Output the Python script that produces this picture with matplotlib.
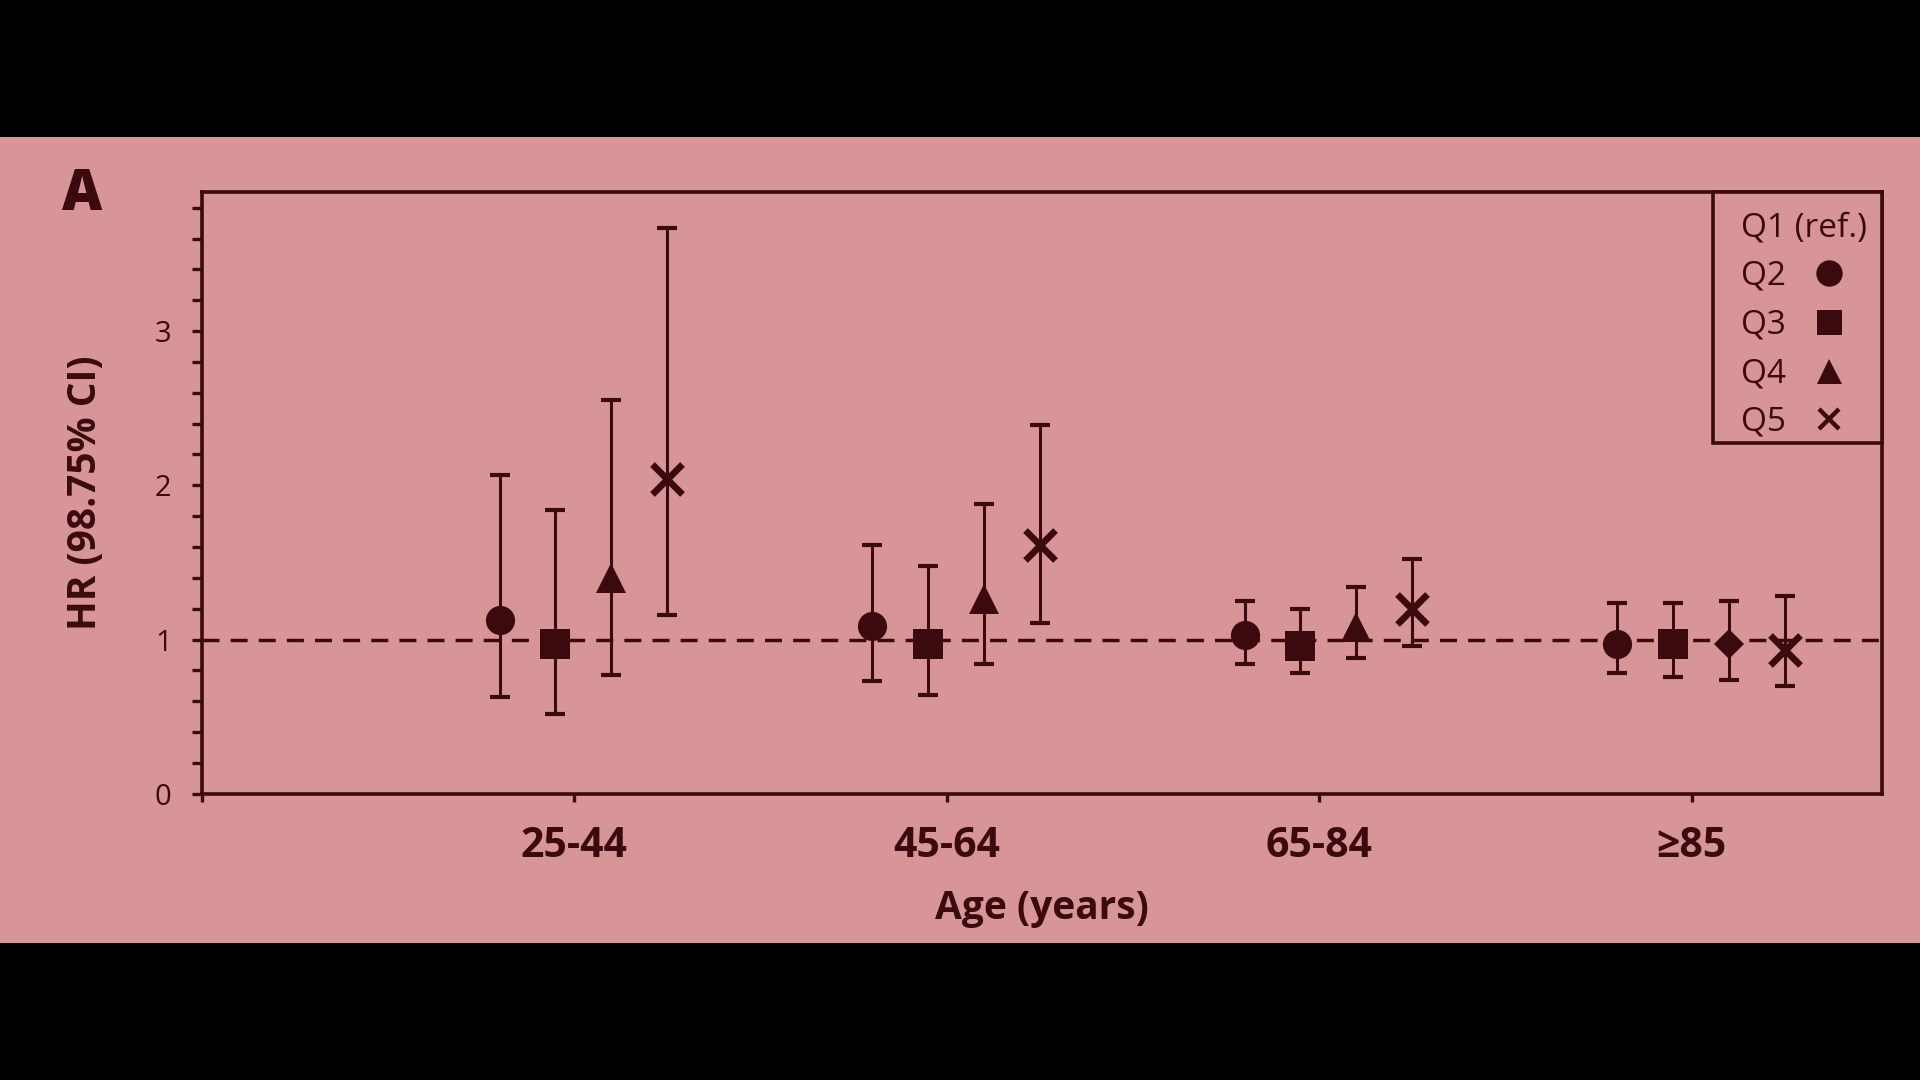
import matplotlib
matplotlib.use("Agg")
import matplotlib.pyplot as plt
from matplotlib.lines import Line2D
from matplotlib.patches import Rectangle
from matplotlib.offsetbox import DrawingArea
import numpy as np

# ---- data ----
age_groups = ['25-44', '45-64', '65-84', '≥85']
q2_hr = [1.13, 1.09, 1.03, 0.97]
q2_lo = [0.63, 0.73, 0.84, 0.78]
q2_hi = [2.07, 1.61, 1.25, 1.24]
q3_hr = [0.97, 0.97, 0.96, 0.97]
q3_lo = [0.52, 0.64, 0.78, 0.76]
q3_hi = [1.84, 1.48, 1.20, 1.24]
q4_hr = [1.40, 1.26, 1.08, 0.97]
q4_lo = [0.77, 0.84, 0.88, 0.74]
q4_hi = [2.55, 1.88, 1.34, 1.25]
q5_hr = [2.04, 1.61, 1.20, 0.93]
q5_lo = [1.16, 1.11, 0.96, 0.70]
q5_hi = [3.67, 2.39, 1.52, 1.28]
legend_labels = ['Q1 (ref.)', 'Q2', 'Q3', 'Q4', 'Q5']

# ---- style ----
PINK = '#d79597'
DARK = '#3a0a0e'
FONT = 'Open Sans'
plt.rcParams['font.family'] = [FONT, 'DejaVu Sans']

fig = plt.figure(figsize=(19.2, 10.8), dpi=100, facecolor='black')
fig.patches.append(Rectangle((0, 0.127), 1, 0.746, transform=fig.transFigure,
                             facecolor=PINK, edgecolor='none', zorder=-5))
ax = fig.add_axes([0.105, 0.265, 0.875, 0.557])
ax.set_facecolor(PINK)

series = [
    (q2_hr, q2_lo, q2_hi, ['o'] * 4, -0.20, 21, 0),
    (q3_hr, q3_lo, q3_hi, ['s'] * 4, -0.05, 21, 0),
    (q4_hr, q4_lo, q4_hi, ['^', '^', '^', 'D'], 0.10, 22, 0),
    (q5_hr, q5_lo, q5_hi, ['x'] * 4, 0.25, 21, 4.8),
]
base = np.arange(1, len(age_groups) + 1)
for hr, lo, hi, markers, off, ms, mew in series:
    hr = np.array(hr); lo = np.array(lo); hi = np.array(hi)
    xs = base + off
    ax.errorbar(xs, hr, yerr=[hr - lo, hi - hr], fmt='none', ecolor=DARK,
                elinewidth=2.2, capsize=7, capthick=3, zorder=3)
    for x, y, m in zip(xs, hr, markers):
        size = ms if m != 'D' else 15
        ax.plot([x], [y], linestyle='none', marker=m, markersize=size,
                color=DARK, markeredgewidth=(mew if m == 'x' else 0), zorder=4)

ax.axhline(1, color=DARK, lw=2.5, ls=(0, (4.9, 3.2)), zorder=2)

ax.set_xlim(0, 4.51)
ax.set_ylim(0, 3.9)
ax.set_xticks(base)
ax.set_xticklabels(age_groups, fontsize=29.5, fontweight='bold', color=DARK)
ax.set_xticks([0], minor=True)
ax.set_yticks([0, 1, 2, 3])
ax.set_yticklabels(['0', '1', '2', '3'], fontsize=21, color=DARK)
ax.set_yticks(np.arange(0.2, 3.81, 0.2), minor=True)
ax.tick_params(axis='y', which='both', direction='out', length=7.5, width=2.4,
               color=DARK, pad=14)
ax.tick_params(axis='x', which='both', direction='out', length=6, width=2.4,
               color=DARK, pad=17)
for s in ax.spines.values():
    s.set_linewidth(2.6)
    s.set_color(DARK)

ax.set_xlabel('Age (years)', fontsize=28, fontweight='bold', color=DARK, labelpad=16)
ax.set_ylabel('HR (98.75% CI)', fontsize=28, fontweight='bold', color=DARK, labelpad=36)

# ---- legend: text left-aligned, markers in a right-hand column ----
LEG_FS = 24
handles = [Line2D([], [], linestyle='none', marker='None', color=DARK)]
handles += [Line2D([], [], linestyle='none', marker=m, markersize=s, color=DARK,
                   markeredgewidth=w)
            for m, s, w in [('o', 19, 0), ('s', 18, 0), ('^', 18, 0), ('x', 15, 3.2)]]
leg = ax.legend(handles, legend_labels, loc='upper right', borderaxespad=0,
                markerfirst=False, fontsize=LEG_FS, frameon=True, fancybox=False,
                edgecolor=DARK, facecolor=PINK, framealpha=1, labelspacing=0.47,
                handlelength=2.28, handletextpad=0, borderpad=0.13)
leg.get_frame().set_linewidth(2.6)
for t in leg.get_texts():
    t.set_color(DARK)

renderer = fig.canvas.get_renderer()
q1_width = leg.get_texts()[0].get_window_extent(renderer).width
hbox = leg._legend_handle_box
column = hbox.get_children()[0]
items = column.get_children()
items[0].get_children()[1].width = 0      # Q1 has no marker
column.align = 'left'
column.width = q1_width
for it in items[1:]:
    it.mode = 'expand'
hbox._children.insert(0, DrawingArea(16.9, 0))   # extra left padding
hbox._children.append(DrawingArea(7.6, 0))       # extra right padding
hbox.sep = 0
leg._legend_box._children[0] = DrawingArea(0, 0)  # extra top padding
leg._legend_box.sep = 10.6

fig.text(0.0427, 1 - 210 / 1080, 'A', fontsize=40, fontweight='heavy', color=DARK,
         ha='center', va='baseline')

fig.savefig('out.png', dpi=100, facecolor=fig.get_facecolor())
